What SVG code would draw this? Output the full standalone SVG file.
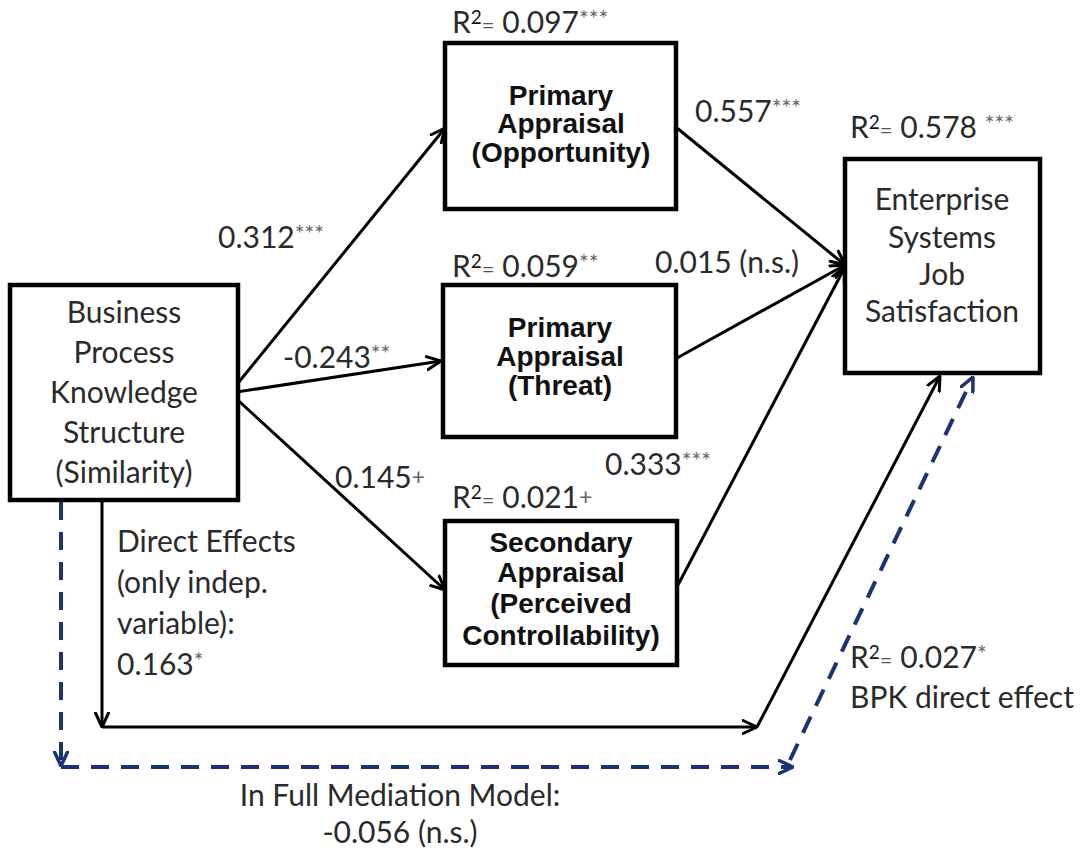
<svg xmlns="http://www.w3.org/2000/svg" width="1080" height="850" viewBox="0 0 1080 850">
  <style>
    .box { fill: #ffffff; stroke: #000000; stroke-width: 4.5; }
    .title { font-family: "Liberation Sans", Arial, sans-serif; font-size: 28px; font-weight: bold; fill: #111111; text-anchor: middle; }
    .soft { font-family: Lato, "Open Sans", sans-serif; font-size: 30px; fill: #2a2a2a; }
    .mid { text-anchor: middle; }
    .sig { font-size: 23px; fill: #666666; }
    .sup { font-size: 19px; fill: #111111; }
    .eq { font-size: 22px; fill: #555555; }
    .link { fill: none; stroke: #000000; stroke-width: 3; }
    .dash { fill: none; stroke: #1b3275; stroke-width: 4; stroke-dasharray: 18 12; }
  </style>
  <defs>
    <marker id="arrow" viewBox="0 0 16 16" refX="15" refY="8" markerWidth="16" markerHeight="16" markerUnits="userSpaceOnUse" orient="auto">
      <path d="M1,1.5 L15,8 L1,14.5" fill="none" stroke="#000000" stroke-width="3" stroke-linecap="round" stroke-linejoin="round"/>
    </marker>
    <marker id="arrow-blue" viewBox="0 0 16 16" refX="15" refY="8" markerWidth="16" markerHeight="16" markerUnits="userSpaceOnUse" orient="auto">
      <path d="M1,1.5 L15,8 L1,14.5" fill="none" stroke="#1b3275" stroke-width="3.5" stroke-linecap="round" stroke-linejoin="round"/>
    </marker>
  </defs>

  <rect width="1080" height="850" fill="#ffffff"/>

  <!-- connectors -->
  <g id="connectors">
    <line class="link" x1="230" y1="393" x2="445" y2="128" marker-end="url(#arrow)"/>
    <line class="link" x1="230" y1="393" x2="441" y2="361" marker-end="url(#arrow)"/>
    <line class="link" x1="230" y1="393" x2="445" y2="590" marker-end="url(#arrow)"/>
    <line class="link" x1="677" y1="128" x2="845" y2="265" marker-end="url(#arrow)"/>
    <line class="link" x1="677" y1="358" x2="845" y2="265" marker-end="url(#arrow)"/>
    <line class="link" x1="678" y1="585" x2="845" y2="267" marker-end="url(#arrow)"/>
    <!-- direct effect path -->
    <line class="link" x1="102" y1="502" x2="102" y2="727" marker-end="url(#arrow)"/>
    <line class="link" x1="102" y1="727" x2="757" y2="727" marker-end="url(#arrow)"/>
    <line class="link" x1="757" y1="727" x2="940" y2="376" marker-end="url(#arrow)"/>
    <!-- full mediation path -->
    <line class="dash" x1="61" y1="502" x2="61" y2="766" marker-end="url(#arrow-blue)"/>
    <line class="dash" x1="61" y1="767" x2="793" y2="767" marker-end="url(#arrow-blue)"/>
    <line class="dash" x1="790" y1="760" x2="973" y2="377" marker-end="url(#arrow-blue)"/>
  </g>

  <!-- independent variable -->
  <g id="bpk">
    <rect class="box" x="10" y="285" width="228" height="215"/>
    <text class="soft mid" x="124" y="323">Business</text>
    <text class="soft mid" x="124" y="363">Process</text>
    <text class="soft mid" x="124" y="403">Knowledge</text>
    <text class="soft mid" x="124" y="443">Structure</text>
    <text class="soft mid" x="124" y="483">(Similarity)</text>
  </g>

  <g id="opportunity">
    <rect class="box" x="445" y="43" width="231" height="166"/>
    <text class="title" x="561" y="105">Primary</text>
    <text class="title" x="561" y="133">Appraisal</text>
    <text class="title" x="561" y="162">(Opportunity)</text>
  </g>

  <g id="threat">
    <rect class="box" x="443" y="285" width="233" height="152"/>
    <text class="title" x="560" y="337">Primary</text>
    <text class="title" x="560" y="366">Appraisal</text>
    <text class="title" x="560" y="395">(Threat)</text>
  </g>

  <g id="controllability">
    <rect class="box" x="445" y="521" width="232" height="144"/>
    <text class="title" x="561" y="552">Secondary</text>
    <text class="title" x="561" y="582">Appraisal</text>
    <text class="title" x="561" y="613">(Perceived</text>
    <text class="title" x="561" y="645">Controllability)</text>
  </g>

  <g id="job-satisfaction">
    <rect class="box" x="845" y="159" width="195" height="214"/>
    <text class="soft mid" x="942" y="210">Enterprise</text>
    <text class="soft mid" x="942" y="248">Systems</text>
    <text class="soft mid" x="942" y="285">Job</text>
    <text class="soft mid" x="942" y="322">Satisfaction</text>
  </g>

  <!-- path coefficients -->
  <g id="labels">
    <text class="soft" x="218" y="248">0.312<tspan class="sig" dy="-6">***</tspan></text>
    <text class="soft" x="283" y="368">-0.243<tspan class="sig" dy="-6">**</tspan></text>
    <text class="soft" x="335" y="488">0.145<tspan class="sig" dy="-3">+</tspan></text>
    <text class="soft" x="695" y="122">0.557<tspan class="sig" dy="-6">***</tspan></text>
    <text class="soft" x="655" y="273">0.015 (n.s.)</text>
    <text class="soft" x="605" y="475">0.333<tspan class="sig" dy="-6">***</tspan></text>

    <text class="soft" x="452" y="33">R<tspan class="sup" dy="-9">2</tspan><tspan class="eq" dy="9">=</tspan> 0.097<tspan class="sig" dy="-6">***</tspan></text>
    <text class="soft" x="452" y="277">R<tspan class="sup" dy="-9">2</tspan><tspan class="eq" dy="9">=</tspan> 0.059<tspan class="sig" dy="-6">**</tspan></text>
    <text class="soft" x="452" y="508">R<tspan class="sup" dy="-9">2</tspan><tspan class="eq" dy="9">=</tspan> 0.021<tspan class="sig" dy="-3">+</tspan></text>
    <text class="soft" x="850" y="138">R<tspan class="sup" dy="-9">2</tspan><tspan class="eq" dy="9">=</tspan> 0.578 <tspan class="sig" dy="-6">***</tspan></text>
    <text class="soft" x="850" y="668">R<tspan class="sup" dy="-9">2</tspan><tspan class="eq" dy="9">=</tspan> 0.027<tspan class="sig" dy="-6">*</tspan></text>
    <text class="soft" x="850" y="708">BPK direct effect</text>

    <text class="soft" x="117" y="552">Direct Effects</text>
    <text class="soft" x="117" y="593">(only indep.</text>
    <text class="soft" x="117" y="634">variable):</text>
    <text class="soft" x="117" y="675">0.163<tspan class="sig" dy="-6">*</tspan></text>

    <text class="soft mid" x="400" y="806">In Full Mediation Model:</text>
    <text class="soft mid" x="400" y="843">-0.056 (n.s.)</text>
  </g>
</svg>
